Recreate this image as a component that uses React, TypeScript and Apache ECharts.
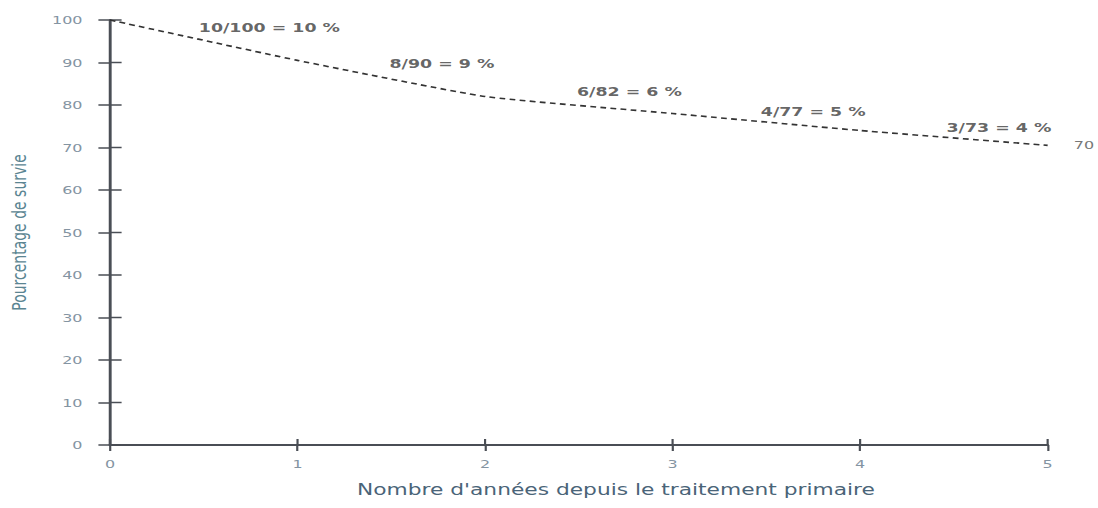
import React, { useEffect, useRef } from "react";
import * as echarts from "echarts";

// ---- data ----
const years = [0, 1, 2, 3, 4, 5];
const survival = [100, 90.5, 82, 78, 74, 70.5];
const yTickMin = 0;
const yTickMax = 100;
const yTickStep = 10;
const yTickValues = [0, 10, 20, 30, 40, 50, 60, 70, 80, 90, 100];
const xTickValues = [0, 1, 2, 3, 4, 5];
const annotationTexts = ["10/100 = 10 %", "8/90 = 9 %", "6/82 = 6 %", "4/77 = 5 %", "3/73 = 4 %"];
const annotationX = [0.85, 1.77, 2.77, 3.75, 4.74];
const annotationY = [98.1, 89.6, 83.1, 78.4, 74.6];
const endValueLabel = "70";
const xAxisName = "Nombre d'années depuis le traitement primaire";
const yAxisName = "Pourcentage de survie";

// horizontal stretch of the original scan
const S = 1.45;
const FULL_W = 1098;
const FULL_H = 508;

export default function App() {
  const ref = useRef<HTMLDivElement>(null);

  useEffect(() => {
    if (!ref.current) return;
    const chart = echarts.init(ref.current, undefined, { renderer: "svg" });
    const axisColor = "#4a4e55";
    const tickLabelColor = "#8494a2";
    const font = "DejaVu Sans";

    chart.setOption({
      animation: false,
      backgroundColor: "#ffffff",
      grid: {
        left: 110 / S,
        right: 50 / S,
        top: 20,
        bottom: 63,
        containLabel: false,
        outerBoundsMode: "none",
      },
      xAxis: {
        type: "value",
        min: 0,
        max: 5,
        interval: 1,
        axisLine: { show: true, onZero: false, lineStyle: { color: axisColor, width: 2 } },
        axisTick: { show: true, length: 6, lineStyle: { color: axisColor, width: 1.5 } },
        axisLabel: { color: tickLabelColor, fontSize: 11, fontFamily: font, margin: 13 },
        splitLine: { show: false },
      },
      yAxis: {
        type: "value",
        min: yTickMin,
        max: yTickMax,
        interval: yTickStep,
        name: yAxisName,
        nameLocation: "middle",
        nameGap: 56,
        nameTextStyle: { color: "#5b8592", fontSize: 14, fontFamily: font },
        axisLine: { show: true, onZero: false, lineStyle: { color: axisColor, width: 2 } },
        axisTick: { show: true, length: 8, lineStyle: { color: axisColor, width: 1.5 } },
        axisLabel: { color: tickLabelColor, fontSize: 11, fontFamily: font, margin: 19 },
        splitLine: { show: false },
      },
      graphic: [
        {
          type: "text",
          left: 357 / S,
          top: 482,
          style: {
            text: xAxisName,
            fill: "#4a6478",
            fontSize: 15,
            fontFamily: font,
          },
        },
      ],
      series: [
        {
          type: "line",
          data: years.map((y, i) => [y, survival[i]]),
          showSymbol: false,
          symbol: "none",
          smooth: 0.15,
          lineStyle: { color: "#333333", width: 1.6, type: [4, 3] },
          label: { show: false },
          endLabel: {
            show: true,
            formatter: () => endValueLabel,
            color: "#777777",
            fontSize: 11,
            fontFamily: font,
            distance: 18,
          },
        },
        {
          type: "scatter",
          symbolSize: 0,
          silent: true,
          data: annotationTexts.map((t, i) => ({ name: t, value: [annotationX[i], annotationY[i]] })),
          label: {
            show: true,
            position: "inside",
            formatter: (p: any) => p.name,
            color: "#3d3d3d",
            fontSize: 12,
            fontWeight: "bold",
            fontFamily: font,
          },
        },
        {
          // inner halves of the y-axis ticks (ticks cross the axis)
          type: "custom",
          silent: true,
          clip: false,
          data: yTickValues.map((v) => [0, v]),
          encode: { x: 0, y: 1 },
          renderItem: (params: any, api: any) => {
            const p = api.coord([api.value(0), api.value(1)]);
            return {
              type: "line",
              shape: { x1: p[0], y1: p[1], x2: p[0] + 8, y2: p[1] },
              style: { stroke: axisColor, lineWidth: 1.5 },
            };
          },
        },
        {
          // inner halves of the x-axis ticks
          type: "custom",
          silent: true,
          clip: false,
          data: xTickValues.map((v) => [v, 0]),
          encode: { x: 0, y: 1 },
          renderItem: (params: any, api: any) => {
            const p = api.coord([api.value(0), api.value(1)]);
            return {
              type: "line",
              shape: { x1: p[0], y1: p[1], x2: p[0], y2: p[1] - 6 },
              style: { stroke: axisColor, lineWidth: 1.5 },
            };
          },
        },
      ],
    });

    return () => chart.dispose();
  }, []);

  return (
    <div
      style={{
        position: "fixed",
        left: 0,
        top: 0,
        width: FULL_W,
        height: FULL_H,
        overflow: "hidden",
        background: "#fff",
      }}
    >
      <div
        ref={ref}
        style={{
          width: FULL_W / S,
          height: FULL_H,
          transform: `scaleX(${S})`,
          transformOrigin: "0 0",
        }}
      />
    </div>
  );
}
